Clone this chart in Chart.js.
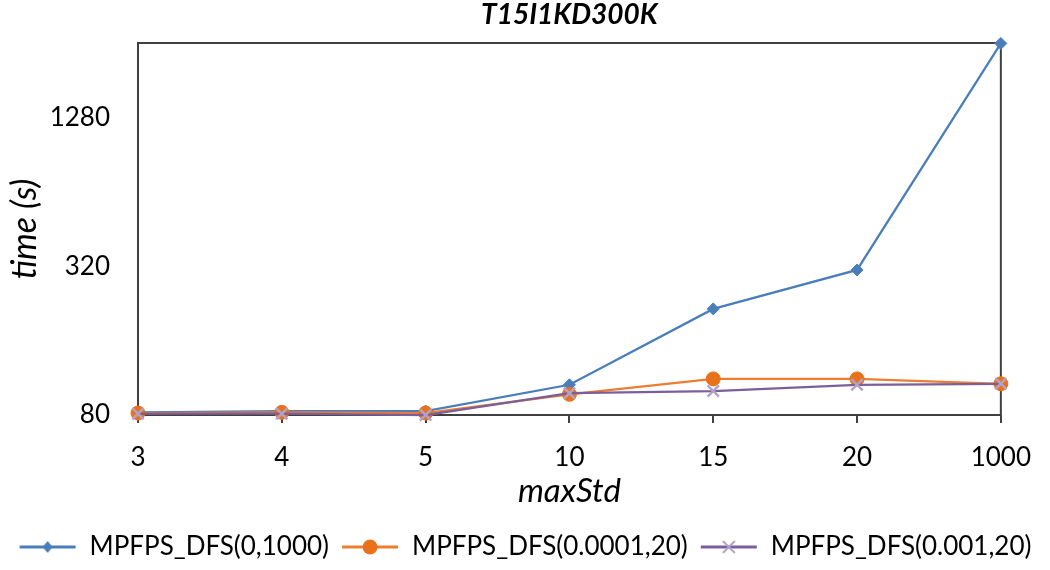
<!DOCTYPE html>
<html>
<head>
<meta charset="utf-8">
<script src="https://cdn.jsdelivr.net/npm/chart.js@4/dist/chart.umd.min.js"></script>
<style>
html,body{margin:0;padding:0;background:#fff;}
#wrap{width:1050px;height:570px;}
</style>
</head>
<body>
<div id="wrap"><canvas id="c" width="1050" height="570"></canvas></div>
<script>
const categories = ['3', '4', '5', '10', '15', '20', '1000'];
const seriesNames = ['MPFPS_DFS(0,1000)', 'MPFPS_DFS(0.0001,20)', 'MPFPS_DFS(0.001,20)'];
const dfs_0_1000 = [82, 83, 83, 106, 215, 309, 2550];
const dfs_00001_20 = [81.5, 82, 81.5, 97, 112, 112, 107];
const dfs_0001_20 = [81, 81, 80, 98, 100, 106, 107];
const yTicks = [80, 320, 1280];
const yMin = 80;
const yMax = 2560;
const chartTitle = 'T15I1KD300K';
const xTitle = 'maxStd';
const yTitle = 'time (s)';

const FONT = "Lato, 'Open Sans', 'DejaVu Sans', sans-serif";
const BLUE = '#4A7EBB';
const ORANGE = '#ED7D31';
const ORANGE_M = '#E8711A';
const PURPLE = '#7A5F9A';
const LAVENDER = '#B3A2C7';

function legendIcon(lineColor, drawMarker) {
  const c = document.createElement('canvas');
  c.width = 58; c.height = 20;
  const g = c.getContext('2d');
  g.strokeStyle = lineColor; g.lineWidth = 3;
  g.beginPath(); g.moveTo(1, 10); g.lineTo(57, 10); g.stroke();
  drawMarker(g, 29, 10);
  return c;
}
const icons = [
  legendIcon(BLUE, (g, x, y) => { g.fillStyle = BLUE; g.beginPath(); g.moveTo(x, y - 6); g.lineTo(x + 5, y); g.lineTo(x, y + 6); g.lineTo(x - 5, y); g.closePath(); g.fill(); }),
  legendIcon(ORANGE, (g, x, y) => { g.fillStyle = ORANGE_M; g.beginPath(); g.arc(x, y, 7.5, 0, Math.PI * 2); g.fill(); }),
  legendIcon(PURPLE, (g, x, y) => { g.strokeStyle = LAVENDER; g.lineWidth = 2; g.beginPath(); g.moveTo(x - 6, y - 6); g.lineTo(x + 6, y + 6); g.moveTo(x + 6, y - 6); g.lineTo(x - 6, y + 6); g.stroke(); })
];

const plotBox = {
  id: 'plotBox',
  beforeDatasetsDraw(chart) {
    const { ctx, chartArea: a } = chart;
    ctx.save();
    ctx.strokeStyle = '#404040';
    ctx.lineWidth = 2;
    ctx.strokeRect(a.left, a.top, a.right - a.left, a.bottom - a.top);
    ctx.restore();
  }
};

new Chart(document.getElementById('c'), {
  type: 'line',
  data: {
    labels: categories,
    datasets: [
      { label: seriesNames[0], data: dfs_0_1000, borderColor: BLUE, backgroundColor: BLUE, pointBackgroundColor: BLUE, pointBorderColor: BLUE,
        pointStyle: 'rectRot', pointRadius: 6, pointBorderWidth: 1, borderWidth: 2.25, tension: 0, clip: false, order: 3 },
      { label: seriesNames[1], data: dfs_00001_20, borderColor: ORANGE, backgroundColor: ORANGE_M, pointBackgroundColor: ORANGE_M, pointBorderColor: ORANGE_M,
        pointStyle: 'circle', pointRadius: 7, pointBorderWidth: 1, borderWidth: 2.25, tension: 0, clip: false, order: 2 },
      { label: seriesNames[2], data: dfs_0001_20, borderColor: PURPLE, backgroundColor: LAVENDER, pointBackgroundColor: LAVENDER, pointBorderColor: LAVENDER,
        pointStyle: 'crossRot', pointRadius: 8, pointBorderWidth: 2.5, borderWidth: 2.25, tension: 0, clip: false, order: 1 }
    ]
  },
  options: {
    responsive: false,
    animation: false,
    layout: { padding: { left: 0, right: 0, top: 0, bottom: 0 } },
    plugins: {
      title: { display: true, text: chartTitle, color: '#000', fullSize: false,
        font: { family: FONT, size: 28, weight: 'bold', style: 'italic', lineHeight: 1.05 }, padding: { top: 0, bottom: 13.6 } },
      legend: {
        position: 'bottom', maxHeight: 48,
        labels: {
          usePointStyle: true, pointStyleWidth: 58, padding: 12, color: '#000',
          font: { family: FONT, size: 26 },
          generateLabels: (chart) => chart.data.datasets.map((ds, i) => ({
            text: ds.label, fillStyle: ds.borderColor, strokeStyle: ds.borderColor, lineWidth: 0,
            pointStyle: icons[i], hidden: false, datasetIndex: i, fontColor: '#000'
          }))
        }
      },
      tooltip: { enabled: false }
    },
    scales: {
      x: {
        type: 'category', offset: false,
        grid: { display: true, drawOnChartArea: false, drawTicks: true, tickLength: 8, color: '#404040', lineWidth: 2 },
        border: { display: false },
        ticks: { padding: 19, color: '#000', font: { family: FONT, size: 26 }, autoSkip: false, maxRotation: 0 },
        title: { display: true, text: xTitle, color: '#000', font: { family: FONT, size: 33, style: 'italic' }, padding: { top: 0, bottom: 11 } },
        afterFit: (s) => { s.height = 107; }
      },
      y: {
        type: 'logarithmic', position: 'left', min: yMin, max: yMax, bounds: 'data',
        afterBuildTicks: (s) => { s.ticks = yTicks.map(v => ({ value: v })); },
        grid: { display: false },
        border: { display: false },
        ticks: { padding: 20, color: '#000', font: { family: FONT, size: 26 }, callback: (v) => String(v) },
        title: { display: true, text: yTitle, color: '#000', font: { family: FONT, size: 34, style: 'italic' }, padding: { top: 5, bottom: 0 } },
        afterFit: (s) => { s.width = 138; }
      },
      yRight: {
        type: 'linear', position: 'right', display: true,
        grid: { display: false }, border: { display: false }, ticks: { display: false },
        afterFit: (s) => { s.width = 49; }
      }
    }
  },
  plugins: [plotBox]
});
</script>
</body>
</html>
